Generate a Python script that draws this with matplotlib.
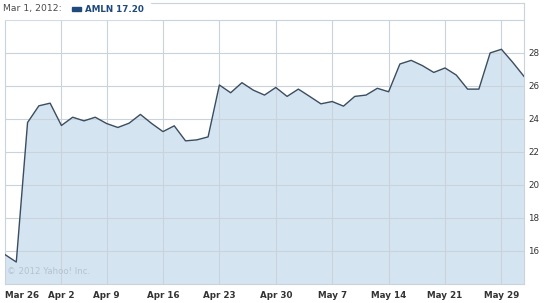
import numpy as np
import matplotlib.pyplot as plt
import matplotlib.transforms as mtransforms

# --- Data (trading days, Mar 26 - May 31, 2012) ---
prices = [15.78, 15.33, 23.77, 24.78, 24.94,                 # Mar 26-30
          23.59, 24.09, 23.87, 24.09,                        # Apr 2-5
          23.71, 23.47, 23.73, 24.26, 23.71,                 # Apr 9-13
          23.22, 23.57, 22.66, 22.72, 22.90,                 # Apr 16-20
          26.04, 25.57, 26.18, 25.73, 25.43,                 # Apr 23-27
          25.89, 25.35, 25.79, 25.35, 24.90,                 # Apr 30-May 4
          25.04, 24.76, 25.35, 25.43, 25.84,                 # May 7-11
          25.63, 27.31, 27.53, 27.21, 26.80,                 # May 14-18
          27.07, 26.64, 25.79, 25.79, 27.98,                 # May 21-25
          28.20, 27.41, 26.56]                               # May 29-31
tick_idx = [0, 5, 9, 14, 19, 24, 29, 34, 39, 44]
tick_labels = ['Mar 26', 'Apr 2', 'Apr 9', 'Apr 16', 'Apr 23', 'Apr 30',
               'May 7', 'May 14', 'May 21', 'May 29']
y_ticks = [16, 18, 20, 22, 24, 26, 28]

GRID = '#c9d3dc'
FILL = '#d5e4f1'
LINE = '#3b4d60'

x = np.arange(len(prices))

fig = plt.figure(figsize=(5.5, 3.03), dpi=100)
ax = fig.add_axes([5 / 550, 19 / 303, 519 / 550, 281 / 303])

ax.fill_between(x, 0, prices, color=FILL, linewidth=0, zorder=1)
ax.plot(x, prices, color=LINE, linewidth=1.0, zorder=3)

ax.set_xlim(0, len(prices) - 1)
ax.set_ylim(14, 31)

# grid: horizontal 16..30, vertical on week starts
for yv in y_ticks + [30]:
    ax.axhline(yv, color=GRID, linewidth=0.8, zorder=2)
ax.vlines(tick_idx[1:], 14, 30, color=GRID, linewidth=0.8, zorder=2)

for s in ax.spines.values():
    s.set_color(GRID)
    s.set_linewidth(0.8)

ax.set_xticks(tick_idx)
ax.set_xticklabels(tick_labels, fontsize=6.3, fontweight='bold', color='#333333')
xlabels = ax.get_xticklabels()
xlabels[0].set_horizontalalignment('left')
# the first two week labels sit a little left of their grid lines
for lbl in xlabels[1:3]:
    lbl.set_transform(lbl.get_transform() +
                      mtransforms.ScaledTranslation(-5 / 100, 0, fig.dpi_scale_trans))
ax.yaxis.tick_right()
ax.set_yticks(y_ticks)
ax.set_yticklabels([str(v) for v in y_ticks], fontsize=6.3, color='#333333')
ax.tick_params(length=0, pad=5)
ax.tick_params(axis='y', pad=3)

# header box over the top frame line
fig.patches.append(plt.Rectangle((0, 1 - 19 / 303), 150 / 550, 19 / 303,
                                 transform=fig.transFigure, color='white', zorder=5))
fig.text(3 / 550, 1 - 9 / 303, 'Mar 1, 2012:', fontsize=6.7, color='#4a4a4a',
         va='center', ha='left', zorder=6)
fig.patches.append(plt.Rectangle((72 / 550, 1 - 11 / 303), 9 / 550, 4 / 303,
                                 transform=fig.transFigure, color='#1f4a7a', zorder=6))
fig.text(85 / 550, 1 - 9 / 303, 'AMLN 17.20', fontsize=6.3, fontweight='bold',
         color='#1f4a7a', va='center', ha='left', zorder=6)

ax.text(0.004, 0.03, '\u00a9 2012 Yahoo! Inc.', transform=ax.transAxes,
        fontsize=6.2, color='#b5c3d0', ha='left', va='bottom', zorder=4)

fig.savefig('out.png', dpi=100)
